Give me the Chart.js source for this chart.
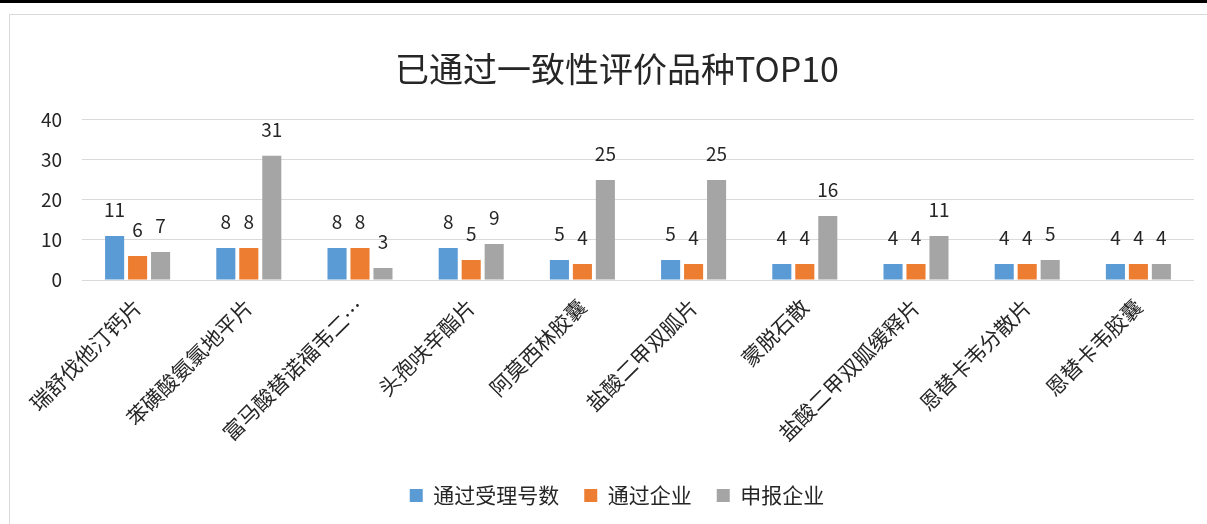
<!DOCTYPE html>
<html lang="zh-CN">
<head>
    <meta charset="UTF-8">
    <title>已通过一致性评价品种TOP10</title>
    <script src="https://cdn.jsdelivr.net/npm/chart.js@4.4.0/dist/chart.umd.min.js"></script>
    <style>
        html, body {
            margin: 0;
            padding: 0;
            background: #ffffff;
            width: 1207px;
            height: 524px;
            overflow: hidden;
        }
        .topbar {
            position: absolute;
            left: 0;
            top: 0;
            width: 1207px;
            height: 3px;
            background: #000000;
        }
        .frame {
            position: absolute;
            left: 9px;
            top: 14px;
            width: 1210px;
            height: 560px;
            border-left: 1px solid #d9d9d9;
            border-top: 1px solid #d9d9d9;
        }
        .chart-box {
            position: absolute;
            left: 0;
            top: 0;
            width: 1197px;
            height: 501px;
        }
    </style>
</head>
<body>
    <div class="topbar"></div>
    <div class="frame">
        <div class="chart-box">
            <canvas id="topChart"></canvas>
        </div>
    </div>

    <script>
        // 品种
        const drugs = [
            '瑞舒伐他汀钙片', '苯磺酸氨氯地平片', '富马酸替诺福韦二…', '头孢呋辛酯片', '阿莫西林胶囊',
            '盐酸二甲双胍片', '蒙脱石散', '盐酸二甲双胍缓释片', '恩替卡韦分散片', '恩替卡韦胶囊'
        ];
        // 通过受理号数
        const acceptedNumbers = [11, 8, 8, 8, 5, 5, 4, 4, 4, 4];
        // 通过企业
        const passedCompanies = [6, 8, 8, 5, 4, 4, 4, 4, 4, 4];
        // 申报企业
        const appliedCompanies = [7, 31, 3, 9, 25, 25, 16, 11, 5, 4];
        const yTicks = [0, 10, 20, 30, 40];

        const cjkFont = '"Noto Sans CJK SC", "Microsoft YaHei", sans-serif';

        // draw value above each bar
        const valueLabels = {
            id: 'valueLabels',
            afterDatasetsDraw(chart) {
                const ctx = chart.ctx;
                ctx.save();
                ctx.font = '19px ' + cjkFont;
                ctx.fillStyle = '#262626';
                ctx.textAlign = 'center';
                ctx.textBaseline = 'alphabetic';
                chart.data.datasets.forEach((ds, i) => {
                    chart.getDatasetMeta(i).data.forEach((bar, j) => {
                        ctx.fillText(ds.data[j], bar.x, bar.y - 19);
                    });
                });
                ctx.restore();
            }
        };

        const ctx = document.getElementById('topChart').getContext('2d');
        new Chart(ctx, {
            type: 'bar',
            data: {
                labels: drugs,
                datasets: [
                    { label: '通过受理号数', data: acceptedNumbers, backgroundColor: '#5B9BD5' },
                    { label: '通过企业', data: passedCompanies, backgroundColor: '#ED7D31' },
                    { label: '申报企业', data: appliedCompanies, backgroundColor: '#A5A5A5' }
                ]
            },
            options: {
                responsive: true,
                maintainAspectRatio: false,
                animation: false,
                categoryPercentage: 0.62,
                barPercentage: 0.83,
                layout: {
                    padding: { left: 30, right: 13, top: 20, bottom: 0 }
                },
                plugins: {
                    title: {
                        display: true,
                        text: '已通过一致性评价品种TOP10',
                        color: '#262626',
                        font: { family: cjkFont, size: 34, weight: 'normal' },
                        padding: { top: 14, bottom: 30 }
                    },
                    legend: {
                        position: 'bottom',
                        labels: {
                            color: '#262626',
                            font: { family: cjkFont, size: 21 },
                            boxWidth: 13,
                            boxHeight: 13,
                            padding: 25
                        }
                    },
                    tooltip: { enabled: false }
                },
                scales: {
                    x: {
                        grid: { display: false, drawTicks: false },
                        border: { display: false },
                        ticks: {
                            color: '#262626',
                            font: { family: cjkFont, size: 21 },
                            minRotation: 45,
                            maxRotation: 45,
                            autoSkip: false,
                            padding: 14
                        },
                        afterFit(scale) { scale.height = 180; }
                    },
                    y: {
                        min: 0,
                        max: 40,
                        grid: { color: '#d9d9d9', lineWidth: 1, drawTicks: false },
                        border: { display: false },
                        afterBuildTicks(scale) {
                            scale.ticks = yTicks.map(v => ({ value: v }));
                        },
                        ticks: {
                            color: '#262626',
                            font: { family: cjkFont, size: 19 },
                            padding: 20
                        },
                        afterFit(scale) { scale.width = 42; }
                    }
                }
            },
            plugins: [valueLabels]
        });
    </script>
</body>
</html>
